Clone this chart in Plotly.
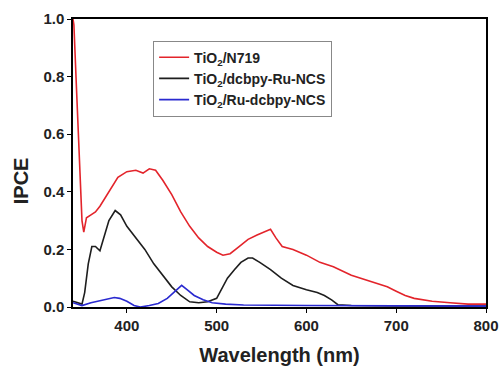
import plotly.graph_objects as go

# Wavelength (nm) and IPCE values
wl_n719 = [340, 341, 344, 347, 350, 352, 355, 360, 365, 370, 380, 390, 400, 410, 418, 425, 432, 440, 450,
           460, 470, 480, 490, 500, 507, 515, 525, 535, 545, 552, 560, 566, 573, 585, 600, 615, 630, 650,
           670, 690, 700, 710, 720, 740, 760, 780, 800]
ipce_n719 = [1.0, 0.98, 0.75, 0.5, 0.3, 0.26, 0.31, 0.32, 0.33, 0.35, 0.40, 0.45, 0.47, 0.475, 0.465, 0.48,
             0.475, 0.44, 0.39, 0.33, 0.28, 0.24, 0.21, 0.19, 0.18, 0.185, 0.21, 0.235, 0.25, 0.26, 0.27,
             0.24, 0.21, 0.20, 0.18, 0.155, 0.14, 0.11, 0.09, 0.07, 0.055, 0.04, 0.03, 0.02, 0.015, 0.01, 0.01]

wl_dcbpy_ru = [340, 345, 350, 353, 357, 361, 365, 370, 375, 380, 387, 393, 400, 410, 420, 430, 440, 450, 460,
               470, 480, 490, 500, 505, 512, 520, 527, 535, 540, 548, 560, 572, 585, 600, 612, 620, 628, 635,
               650, 700, 800]
ipce_dcbpy_ru = [0.02, 0.015, 0.01, 0.05, 0.15, 0.21, 0.21, 0.195, 0.25, 0.30, 0.335, 0.32, 0.28, 0.24, 0.20,
                 0.15, 0.11, 0.07, 0.04, 0.018, 0.015, 0.018, 0.03, 0.06, 0.10, 0.13, 0.155, 0.17, 0.17, 0.155,
                 0.13, 0.10, 0.075, 0.06, 0.05, 0.04, 0.025, 0.008, 0.005, 0.004, 0.003]

wl_ru_dcbpy = [340, 345, 350, 360, 370, 380, 386, 392, 400, 408, 415, 425, 435, 445, 455, 461, 467, 475, 485,
               495, 510, 530, 600, 700, 800]
ipce_ru_dcbpy = [0.015, 0.01, 0.005, 0.015, 0.022, 0.03, 0.033, 0.03, 0.02, 0.005, 0.0, 0.005, 0.012, 0.03,
                 0.06, 0.075, 0.06, 0.04, 0.025, 0.015, 0.01, 0.007, 0.005, 0.004, 0.003]

names = ["TiO<sub>2</sub>/N719", "TiO<sub>2</sub>/dcbpy-Ru-NCS", "TiO<sub>2</sub>/Ru-dcbpy-NCS"]
colors = ["#e3242b", "#1e1e1e", "#2a2ad0"]

x_ticks = [400, 500, 600, 700, 800]
y_ticks = [0.0, 0.2, 0.4, 0.6, 0.8, 1.0]

FONT = "Arial, Liberation Sans, sans-serif"

fig = go.Figure()
for i, (xs, ys, nm, c) in enumerate(zip([wl_n719, wl_dcbpy_ru, wl_ru_dcbpy],
                                        [ipce_n719, ipce_dcbpy_ru, ipce_ru_dcbpy], names, colors)):
    fig.add_trace(go.Scatter(x=xs, y=ys, mode="lines", name=nm, legendgroup=f"g{i}",
                             line=dict(color=c, width=1.6)))

fig.update_layout(
    width=499, height=367,
    margin=dict(l=73, r=13, t=19, b=60, autoexpand=False),
    paper_bgcolor="white", plot_bgcolor="white",
    font=dict(family=FONT, color="#222"),
    showlegend=True,
    legend=dict(x=0.194, y=0.925, xanchor="left", yanchor="top",
                bordercolor="#888", borderwidth=1, bgcolor="white",
                font=dict(family=FONT, size=14, weight="bold", color="#222"),
                traceorder="grouped", tracegroupgap=0, itemwidth=30),
    xaxis=dict(range=[340, 800], tickvals=x_ticks, ticktext=[str(v) for v in x_ticks],
               showgrid=False, zeroline=False, showline=True, linecolor="black", linewidth=1.5,
               mirror=True, ticks="outside", ticklen=4, tickcolor="black", automargin=False,
               tickfont=dict(family=FONT, size=15, weight="bold", color="#222"),
               title=dict(text="Wavelength (nm)", standoff=15,
                          font=dict(family=FONT, size=20, weight="bold", color="#222"))),
    yaxis=dict(range=[0, 1.0], tickvals=y_ticks, ticktext=[f"{v:.1f}" for v in y_ticks],
               showgrid=False, zeroline=False, showline=True, linecolor="black", linewidth=1.5,
               mirror=True, ticks="outside", ticklen=4, tickcolor="black", automargin=False,
               tickfont=dict(family=FONT, size=15, weight="bold", color="#222")),
    annotations=[dict(text="IPCE", xref="paper", yref="paper", x=-0.126, y=0.44,
                      textangle=-90, showarrow=False, xanchor="center", yanchor="middle",
                      font=dict(family=FONT, size=20, weight="bold", color="#222"))],
)

fig.write_html("out.html", config={"displayModeBar": False},
               post_script="document.body.style.margin='0';")
